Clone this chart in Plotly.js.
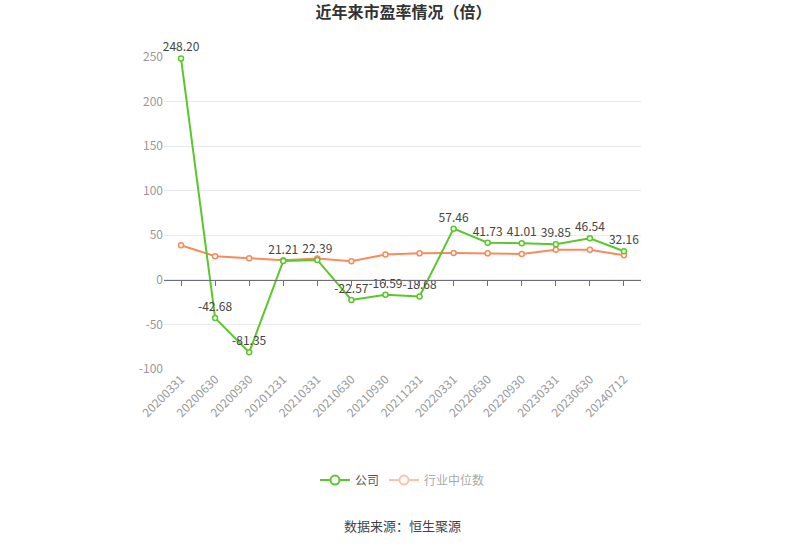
<!DOCTYPE html>
<html>
<head>
<meta charset="utf-8">
<script src="https://cdn.plot.ly/plotly-3.0.1.min.js"></script>
<style>
  html, body { margin: 0; padding: 0; background: #fff; }
  #chart { width: 807px; height: 546px; }
</style>
</head>
<body>
<div id="chart"></div>
<script>
// report dates and P/E values
const dates = ['20200331', '20200630', '20200930', '20201231', '20210331', '20210630', '20210930',
  '20211231', '20220331', '20220630', '20220930', '20230331', '20230630', '20240712'];
const companyPE = [248.20, -42.68, -81.35, 21.21, 22.39, -22.57, -16.59, -18.68, 57.46, 41.73, 41.01, 39.85, 46.54, 32.16];
const industryPE = [38.8, 26.5, 24.3, 22.0, 24.0, 20.9, 28.4, 29.8, 30.1, 29.8, 29.0, 33.8, 33.8, 27.5];
const yTicks = [-100, -50, 0, 50, 100, 150, 200, 250];

const GREEN = '#5ac72a';
const ORANGE = '#f98a5c';
const FONT = '"Microsoft YaHei", "Noto Sans CJK SC", sans-serif';

const company = {
  x: dates, y: companyPE, name: '公司', type: 'scatter', mode: 'lines+markers+text',
  line: { color: GREEN, width: 2 },
  marker: { symbol: 'circle', size: 5, color: '#fff', line: { color: GREEN, width: 1.5 } },
  text: companyPE.map(v => v.toFixed(2)), textposition: 'top center',
  textfont: { size: 12, color: '#444', family: FONT },
  showlegend: false, cliponaxis: false, hoverinfo: 'skip'
};

const industry = {
  x: dates, y: industryPE, name: '行业中位数', type: 'scatter', mode: 'lines+markers',
  line: { color: ORANGE, width: 2 },
  marker: { symbol: 'circle', size: 5, color: '#fff', line: { color: ORANGE, width: 1.5 } },
  showlegend: false, hoverinfo: 'skip'
};

// legend-only entries (industry entry drawn faded like the reference)
const legendCompany = {
  x: [null], y: [null], name: '公司', type: 'scatter', mode: 'lines+markers',
  line: { color: GREEN, width: 2 },
  marker: { size: 9, color: '#fff', line: { color: GREEN, width: 2 } }
};
const legendIndustry = {
  x: [null], y: [null], name: '<span style="color:#aaa">行业中位数</span>', type: 'scatter', mode: 'lines+markers',
  line: { color: '#fbc2aa', width: 2 },
  marker: { size: 9, color: '#fff', line: { color: '#fbc2aa', width: 2 } }
};

// axis line with ticks sitting on y = 0
const zeroAxis = {
  x: dates, y: dates.map(() => null), xaxis: 'x2', type: 'scatter', mode: 'lines',
  showlegend: false, hoverinfo: 'skip'
};

const layout = {
  width: 807, height: 546,
  margin: { l: 164, r: 166, t: 57, b: 177 },
  paper_bgcolor: '#fff', plot_bgcolor: '#fff',
  font: { family: FONT, size: 12, color: '#999' },
  title: {
    text: '<b>近年来市盈率情况（倍）</b>',
    x: 0.5, xanchor: 'center', y: 0.977, yanchor: 'middle',
    font: { size: 16, color: '#333', family: FONT }
  },
  xaxis: {
    type: 'category', range: [-0.5, dates.length - 0.5],
    showgrid: false, zeroline: false, showline: false, ticks: '',
    tickangle: -45, tickfont: { size: 12, color: '#999' }
  },
  xaxis2: {
    type: 'category', overlaying: 'x', anchor: 'free', position: 100 / 350,
    range: [-0.5, dates.length - 0.5],
    showgrid: false, zeroline: false, showticklabels: false,
    showline: true, linecolor: '#6e7079', linewidth: 1,
    ticks: 'outside', ticklen: 5, tickcolor: '#6e7079'
  },
  yaxis: {
    range: [-100, 250], tickvals: yTicks, ticktext: yTicks.map(String),
    showgrid: true, gridcolor: '#e8eaf0', gridwidth: 1,
    zeroline: false, showline: false, ticks: '', ticklen: 8, tickcolor: 'rgba(0,0,0,0)',
    tickfont: { size: 12, color: '#999' }
  },
  legend: {
    orientation: 'h', x: 0.5, xanchor: 'center', y: -0.356, yanchor: 'middle',
    font: { size: 12, color: '#555', family: FONT }, itemwidth: 30
  },
  annotations: [{
    text: '数据来源：恒生聚源', xref: 'paper', yref: 'paper', x: 0.5, y: -0.5,
    xanchor: 'center', yanchor: 'middle', showarrow: false,
    font: { size: 13, color: '#444', family: FONT }
  }]
};

Plotly.newPlot('chart', [zeroAxis, industry, company, legendCompany, legendIndustry], layout,
  { staticPlot: true, displayModeBar: false });
</script>
</body>
</html>
